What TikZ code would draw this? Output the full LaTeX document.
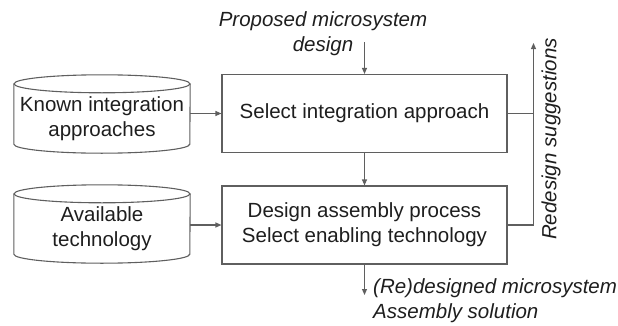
\documentclass[tikz,border=0pt]{standalone}
\usepackage{fontspec}
\setmainfont{Liberation Sans}
\usetikzlibrary{arrows.meta}
\definecolor{linegray}{RGB}{95,95,95}
\definecolor{txt}{RGB}{30,30,30}
\tikzset{
  ln/.style={draw=linegray, line width=1.1pt},
  arr/.style={ln, -{Triangle[length=6pt,width=5pt]}},
  proc/.style={ln, rectangle, minimum width=285pt, minimum height=78pt,
               inner sep=0pt, align=center, text=txt},
  cylbody/.style={rectangle, minimum width=176pt, minimum height=69pt,
                  inner sep=0pt, align=center, text=txt},
  lbl/.style={font=\fontsize{20.5}{25}\selectfont\itshape, text=txt, inner sep=0pt},
}
\newcommand{\drumoutline}[1]{%
  \draw[ln] (#1.north) ellipse [x radius=88pt, y radius=9pt];
  \draw[ln] (#1.north west) -- ([yshift=9pt]#1.south west)
    arc [start angle=180, end angle=360, x radius=88pt, y radius=9pt]
    -- (#1.north east);
}
\begin{document}
\begin{tikzpicture}[x=1pt, y=1pt, font=\fontsize{20.5}{25}\selectfont]
\useasboundingbox (0,0) rectangle (618,325);

% process boxes
\node[proc] (sel) at (364.5,211.5) {Select integration approach};
\node[proc] (des) at (364.5,100) {Design assembly process\\Select enabling technology};

% knowledge stores
\node[cylbody] (kia) at (102,206.5) {Known integration\\approaches};
\node[cylbody] (avt) at (102,96.5) {Available\\technology};
\drumoutline{kia}
\drumoutline{avt}

% labels
\node[lbl, align=center] (prop) at (323,291.5) {Proposed microsystem\\design};
\node[lbl, align=left, anchor=west] (outl) at (373,24.5) {(Re)designed microsystem\\Assembly solution};
\node[lbl, rotate=90] (redes) at (551,186) {Redesign suggestions};

% free ends
\coordinate (pin) at (364.5,283);
\coordinate (pout) at (364.5,30);
\coordinate (rtop) at (533.5,282);

% connectors
\draw[arr] (pin) -- (sel.north);
\draw[arr] (sel.south) -- (des.north);
\draw[arr] (des.south) -- (pout);
\draw[arr] (kia.east |- sel.west) -- (sel.west);
\draw[arr] (avt.east |- des.west) -- (des.west);
\draw[ln] (sel.east) -- (sel.east -| rtop);
\draw[arr] (des.east) -| (rtop);
\end{tikzpicture}
\end{document}
